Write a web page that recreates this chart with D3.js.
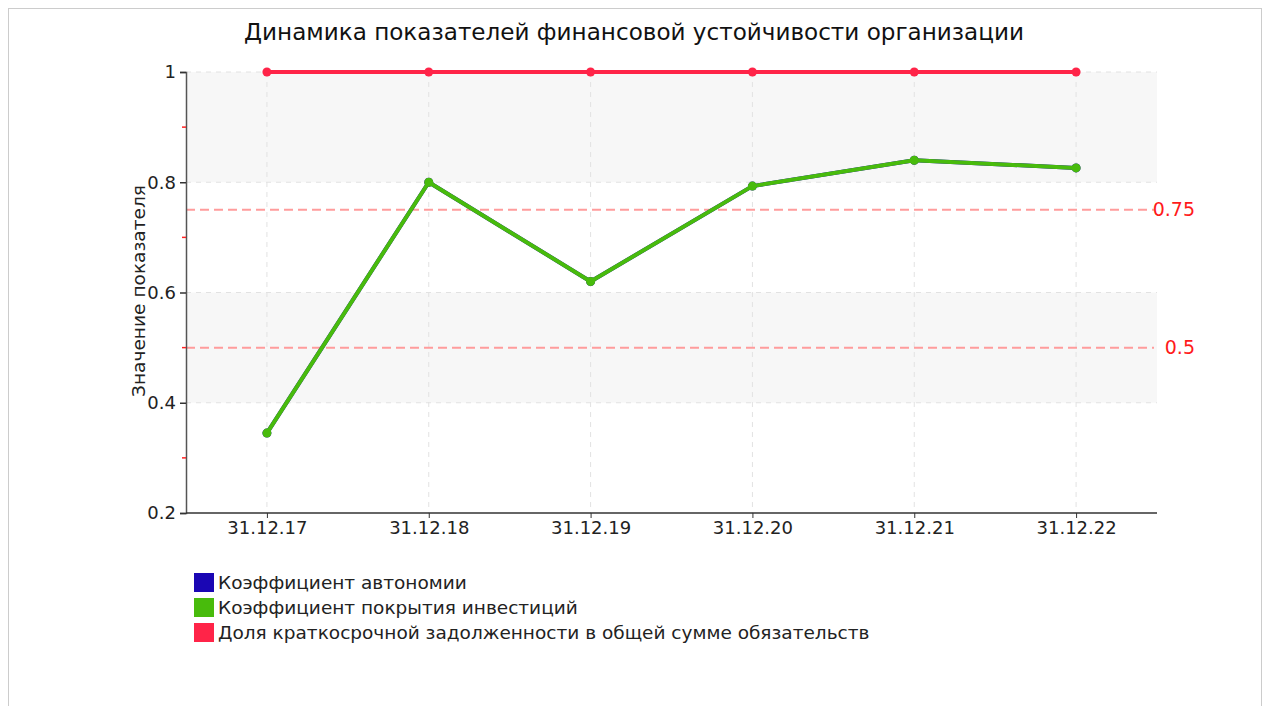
<!DOCTYPE html>
<html>
<head>
<meta charset="utf-8">
<script src="https://cdn.jsdelivr.net/npm/d3@7"></script>
<style>
  body { margin: 0; background: #fff; }
  svg { display: block; font-family: "DejaVu Sans", Verdana, sans-serif; }
</style>
</head>
<body>
<svg id="chart" width="1264" height="706"></svg>
<script>
// data
const dates = ["31.12.17", "31.12.18", "31.12.19", "31.12.20", "31.12.21", "31.12.22"];
const autonomy = [0.345, 0.80, 0.62, 0.793, 0.84, 0.826];
const investCover = [0.345, 0.80, 0.62, 0.793, 0.84, 0.826];
const shortDebtShare = [1, 1, 1, 1, 1, 1];
const yTicks = [0.2, 0.4, 0.6, 0.8, 1];
const minorTicks = [0.3, 0.5, 0.7, 0.9];
const thresholds = [0.75, 0.5];

const series = [
  {name: "Коэффициент автономии", color: "#1a06b4", values: autonomy},
  {name: "Коэффициент покрытия инвестиций", color: "#48bb0c", values: investCover},
  {name: "Доля краткосрочной задолженности в общей сумме обязательств", color: "#ff2448", values: shortDebtShare}
];

const svg = d3.select("#chart");

// outer frame
svg.append("rect")
  .attr("x", 8.5).attr("y", 8.5)
  .attr("width", 1253).attr("height", 710)
  .attr("fill", "none").attr("stroke", "#cccccc");

const plotLeft = 186, plotRight = 1157, plotTop = 72, plotBottom = 513;

const x = d3.scalePoint().domain(dates).range([plotLeft, plotRight]).padding(0.5);
const y = d3.scaleLinear().domain([0.2, 1]).range([plotBottom, plotTop]);

// alternating bands
const bands = [[0.8, 1], [0.4, 0.6]];
svg.append("g").selectAll("rect")
  .data(bands)
  .join("rect")
  .attr("x", plotLeft).attr("width", plotRight - plotLeft)
  .attr("y", d => y(d[1])).attr("height", d => y(d[0]) - y(d[1]))
  .attr("fill", "#f7f7f7");

// grid
const grid = svg.append("g").attr("stroke", "#e2e2e2").attr("stroke-dasharray", "5,5");
grid.selectAll("line.h")
  .data(yTicks.filter(d => d > 0.2))
  .join("line")
  .attr("class", "h")
  .attr("x1", plotLeft).attr("x2", plotRight)
  .attr("y1", d => y(d)).attr("y2", d => y(d));
grid.selectAll("line.v")
  .data(dates)
  .join("line")
  .attr("class", "v")
  .attr("x1", d => x(d)).attr("x2", d => x(d))
  .attr("y1", plotTop).attr("y2", plotBottom);

// threshold lines
svg.append("g").selectAll("line")
  .data(thresholds)
  .join("line")
  .attr("x1", plotLeft).attr("x2", 1154)
  .attr("y1", d => y(d)).attr("y2", d => y(d))
  .attr("stroke", "#ff9c9c").attr("stroke-width", 2)
  .attr("stroke-dasharray", "9,5");
svg.append("g").selectAll("text")
  .data(thresholds)
  .join("text")
  .attr("x", 1195).attr("y", d => y(d))
  .attr("dy", "0.35em")
  .attr("text-anchor", "end")
  .attr("fill", "#ff1a1a")
  .attr("font-size", 19)
  .text(d => d);

// axes
const yAxis = svg.append("g")
  .attr("transform", `translate(${plotLeft},0)`)
  .call(d3.axisLeft(y).tickValues(yTicks).tickFormat(d3.format("")).tickSize(6).tickPadding(4));
yAxis.select(".domain").attr("stroke", "#555").attr("stroke-width", 1.5);
yAxis.selectAll(".tick line").attr("stroke", "#333").attr("stroke-width", 1.5);
yAxis.selectAll(".tick text").attr("font-size", 18).attr("fill", "#222")
  .attr("font-family", "DejaVu Sans, sans-serif");

svg.append("g").selectAll("line")
  .data(minorTicks)
  .join("line")
  .attr("x1", plotLeft - 4).attr("x2", plotLeft)
  .attr("y1", d => y(d)).attr("y2", d => y(d))
  .attr("stroke", "#ff2222").attr("stroke-width", 1.5);

const xAxis = svg.append("g")
  .attr("transform", `translate(0,${plotBottom})`)
  .call(d3.axisBottom(x).tickSize(5).tickSizeOuter(0).tickPadding(3));
xAxis.select(".domain").attr("stroke", "#333").attr("stroke-width", 1.5)
  .attr("d", `M${plotLeft},0H${plotRight}`);
xAxis.selectAll(".tick line").attr("stroke", "#333");
xAxis.selectAll(".tick text").attr("font-size", 18).attr("fill", "#222")
  .attr("font-family", "DejaVu Sans, sans-serif");

// lines
const line = d3.line().x((d, i) => x(dates[i])).y(d => y(d));
series.forEach(s => {
  const g = svg.append("g");
  g.append("path")
    .datum(s.values)
    .attr("d", line)
    .attr("fill", "none")
    .attr("stroke", s.color)
    .attr("stroke-width", 4)
    .attr("stroke-linejoin", "round");
  g.selectAll("circle")
    .data(s.values)
    .join("circle")
    .attr("cx", (d, i) => x(dates[i]))
    .attr("cy", d => y(d))
    .attr("r", 4.5)
    .attr("fill", s.color);
});

// title
svg.append("text")
  .attr("x", 634).attr("y", 40)
  .attr("text-anchor", "middle")
  .attr("font-size", 23)
  .attr("textLength", 780)
  .attr("lengthAdjust", "spacingAndGlyphs")
  .attr("fill", "#111")
  .text("Динамика показателей финансовой устойчивости организации");

// y axis title
svg.append("text")
  .attr("transform", "translate(145,291) rotate(-90)")
  .attr("text-anchor", "middle")
  .attr("font-size", 17)
  .attr("textLength", 212)
  .attr("lengthAdjust", "spacingAndGlyphs")
  .attr("fill", "#222")
  .text("Значение показателя");

// legend
const legend = svg.append("g").selectAll("g")
  .data(series)
  .join("g")
  .attr("transform", (d, i) => `translate(194,${573 + i * 25})`);
legend.append("rect")
  .attr("width", 20).attr("height", 19)
  .attr("fill", d => d.color);
legend.append("text")
  .attr("x", 24).attr("y", 10)
  .attr("dy", "0.35em")
  .attr("font-size", 18.5)
  .attr("fill", "#222")
  .text(d => d.name);
</script>
</body>
</html>
